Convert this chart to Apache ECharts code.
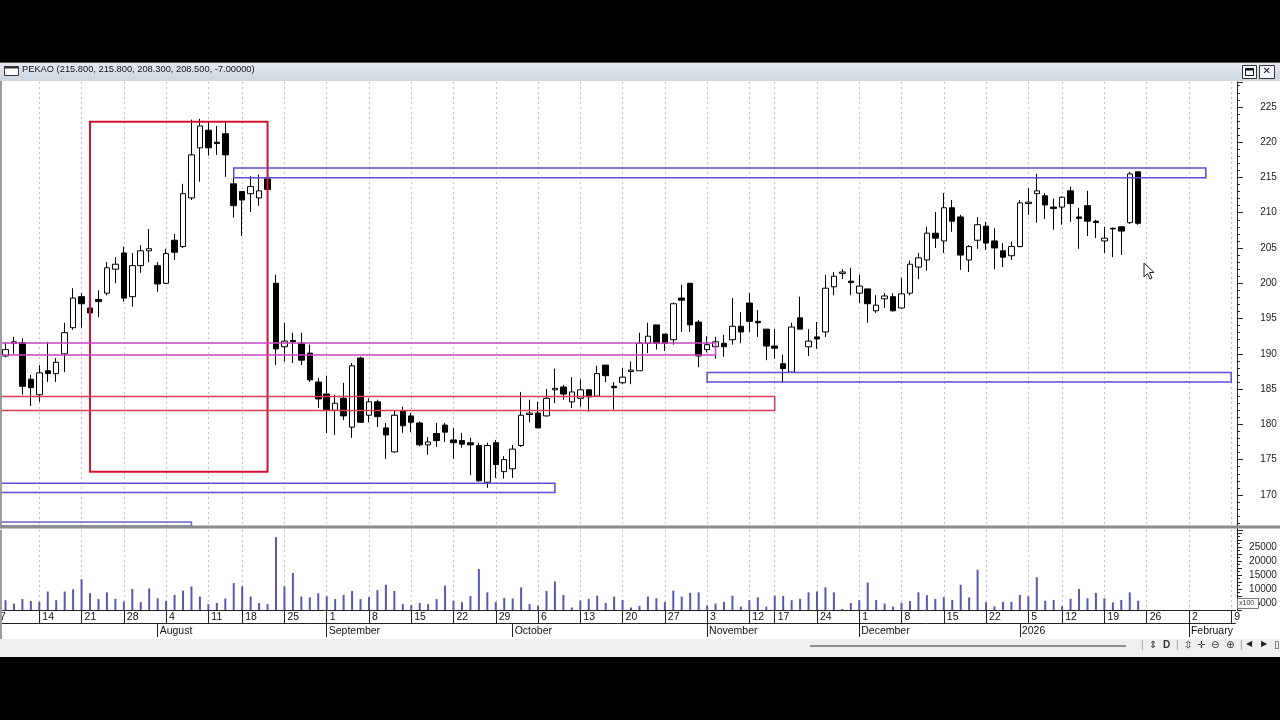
<!DOCTYPE html>
<html>
<head>
<meta charset="UTF-8">
<title>PEKAO</title>
<script src="https://cdn.jsdelivr.net/npm/echarts@6/dist/echarts.min.js"></script>
<style>
  html, body { margin: 0; padding: 0; background: #000; }
  #chart {
    width: 1280px; height: 720px;
    background: linear-gradient(#000 0 62px, #fff 62px 639px, #efefef 639px 657px, #000 657px);
  }
</style>
</head>
<body>
<div id="chart"></div>
<script>
// trading days shown on the axis (holidays skipped)
var dates = [
  '2025-07-07','2025-07-08','2025-07-09','2025-07-10','2025-07-11',
  '2025-07-14','2025-07-15','2025-07-16','2025-07-17','2025-07-18',
  '2025-07-21','2025-07-22','2025-07-23','2025-07-24','2025-07-25',
  '2025-07-28','2025-07-29','2025-07-30','2025-07-31','2025-08-01',
  '2025-08-04','2025-08-05','2025-08-06','2025-08-07','2025-08-08',
  '2025-08-11','2025-08-12','2025-08-13','2025-08-14',
  '2025-08-18','2025-08-19','2025-08-20','2025-08-21','2025-08-22',
  '2025-08-25','2025-08-26','2025-08-27','2025-08-28','2025-08-29',
  '2025-09-01','2025-09-02','2025-09-03','2025-09-04','2025-09-05',
  '2025-09-08','2025-09-09','2025-09-10','2025-09-11','2025-09-12',
  '2025-09-15','2025-09-16','2025-09-17','2025-09-18','2025-09-19',
  '2025-09-22','2025-09-23','2025-09-24','2025-09-25','2025-09-26',
  '2025-09-29','2025-09-30','2025-10-01','2025-10-02','2025-10-03',
  '2025-10-06','2025-10-07','2025-10-08','2025-10-09','2025-10-10',
  '2025-10-13','2025-10-14','2025-10-15','2025-10-16','2025-10-17',
  '2025-10-20','2025-10-21','2025-10-22','2025-10-23','2025-10-24',
  '2025-10-27','2025-10-28','2025-10-29','2025-10-30','2025-10-31',
  '2025-11-03','2025-11-04','2025-11-05','2025-11-06','2025-11-07',
  '2025-11-12','2025-11-13','2025-11-14',
  '2025-11-17','2025-11-18','2025-11-19','2025-11-20','2025-11-21',
  '2025-11-24','2025-11-25','2025-11-26','2025-11-27','2025-11-28',
  '2025-12-01','2025-12-02','2025-12-03','2025-12-04','2025-12-05',
  '2025-12-08','2025-12-09','2025-12-10','2025-12-11','2025-12-12',
  '2025-12-15','2025-12-16','2025-12-17','2025-12-18','2025-12-19',
  '2025-12-22','2025-12-23','2025-12-29','2025-12-30',
  '2026-01-02','2026-01-05','2026-01-07','2026-01-08','2026-01-09',
  '2026-01-12','2026-01-13','2026-01-14','2026-01-15','2026-01-16',
  '2026-01-19','2026-01-20','2026-01-21','2026-01-22','2026-01-23',
  '2026-01-26','2026-01-27','2026-01-28','2026-01-29','2026-01-30',
  '2026-02-02','2026-02-03','2026-02-04','2026-02-05','2026-02-06',
  '2026-02-09'
];

var weekTicks = [
  '2025-07-07','2025-07-14','2025-07-21','2025-07-28','2025-08-04','2025-08-11',
  '2025-08-18','2025-08-25','2025-09-01','2025-09-08','2025-09-15','2025-09-22',
  '2025-09-29','2025-10-06','2025-10-13','2025-10-20','2025-10-27','2025-11-03',
  '2025-11-12','2025-11-17','2025-11-24','2025-12-01','2025-12-08','2025-12-15',
  '2025-12-22','2026-01-05','2026-01-12','2026-01-19','2026-01-26','2026-02-02',
  '2026-02-09'
];
var monthStarts = ['2025-08-01','2025-09-01','2025-10-01','2025-11-03','2025-12-01','2026-01-02','2026-02-02'];
var monthNames = ['August','September','October','November','December','2026','February'];

// [open, close, low, high]
var candles = [
  null,
  [189.7,190.6,189.5,191.6],[191.5,191.7,190.0,192.4],[191.6,185.4,184.2,192.2],[186.4,185.2,182.6,187.0],
  [184.2,187.3,183.2,188.4],[187.6,187.2,186.0,191.7],[187.2,188.8,186.0,189.4],[190.0,193.0,187.4,194.4],
  [193.7,197.9,193.4,199.3],[198.1,197.1,193.7,198.6],[196.5,195.8,194.8,197.2],[197.7,197.4,195.2,199.0],
  [198.6,202.2,198.3,203.0],[202.0,202.7,200.0,203.7],[204.3,197.9,197.4,205.2],[198.1,202.5,196.7,204.3],
  [202.5,204.6,201.5,205.4],[204.6,204.9,203.0,207.7],[202.5,199.9,198.8,203.0],[200.0,204.2,199.9,204.9],
  [206.1,204.4,203.3,207.0],[205.2,212.7,205.0,214.1],[212.1,218.2,211.8,223.2],[219.2,222.3,214.4,223.3],
  [221.7,219.2,218.1,222.9],[220.0,219.8,218.2,222.3],[221.2,218.2,215.1,222.9],[214.1,211.0,209.3,215.1],
  [213.0,211.8,206.7,213.0],[212.7,213.7,210.1,215.2],[212.1,213.1,211.0,215.4],[214.8,213.3,212.5,215.8],
  [200.0,190.7,188.4,201.2],[191.0,191.8,188.9,194.4],[191.9,191.7,188.7,193.0],[191.5,189.1,188.4,193.0],
  [190.1,186.3,186.0,191.3],[186.0,183.6,182.3,186.6],[184.3,182.0,178.8,186.9],[182.0,183.0,178.5,184.2],
  [183.7,181.2,180.6,185.9],[179.6,188.3,178.1,188.7],[189.4,180.3,180.2,189.6],[181.3,183.2,180.3,183.7],
  [183.2,181.1,179.6,183.5],[179.5,178.5,175.1,180.2],[176.1,181.3,176.0,182.0],[181.9,179.8,178.8,182.5],
  [181.2,180.3,178.9,181.6],[180.2,177.1,176.9,180.4],[177.1,177.5,175.7,178.2],[178.7,177.7,176.8,180.2],
  [179.9,178.9,177.5,180.2],[177.8,177.4,175.1,179.5],[177.7,177.2,176.7,178.8],[177.4,177.1,172.8,178.1],
  [177.0,172.0,171.9,177.4],[171.8,177.0,171.0,177.4],[177.4,174.3,172.4,177.8],[173.3,175.0,172.3,175.5],
  [173.7,176.5,172.4,177.1],[177.0,181.3,176.8,184.6],[181.4,181.6,180.3,183.5],[181.6,179.5,179.5,183.2],
  [181.2,183.7,181.1,185.0],[184.9,185.1,183.0,187.9],[185.3,184.3,183.5,185.6],[183.2,184.6,182.3,186.7],
  [183.7,184.9,182.5,186.4],[184.9,183.9,181.8,184.9],[184.0,187.2,184.0,188.3],[188.4,186.9,186.0,188.4],
  [185.4,185.2,182.1,186.0],[185.9,186.7,185.7,188.0],[187.5,187.7,185.7,188.9],[187.6,191.5,187.6,193.0],
  [191.5,192.5,190.1,194.4],[194.1,191.5,190.6,194.1],[192.8,191.5,190.4,192.8],[192.0,197.1,191.3,197.3],
  [197.9,197.6,193.1,199.8],[200.0,194.1,193.1,200.0],[194.5,189.7,188.1,194.8],[190.6,191.3,190.2,192.5],
  [191.0,191.7,189.3,192.4],[191.5,191.0,189.6,192.7],[192.0,193.9,191.3,197.9],[193.9,193.1,191.5,195.9],
  [197.2,194.6,193.1,198.6],[194.6,194.4,192.4,196.2],[193.5,191.1,189.1,193.5],[191.1,190.8,189.3,193.5],
  [188.6,187.9,185.9,189.9],[187.4,193.8,187.3,194.4],[195.1,193.5,193.5,198.1],[191.0,191.8,189.7,193.5],
  [192.4,192.1,190.7,194.5],[193.1,199.3,192.4,201.2],[199.5,201.0,198.3,201.6],[201.4,201.6,200.6,202.0],
  [200.3,200.1,198.3,202.2],[198.6,199.6,197.2,201.2],[199.2,197.1,194.4,199.2],[196.1,196.9,195.8,198.3],
  [197.8,198.2,196.5,198.6],[198.1,196.1,196.0,198.6],[196.5,198.5,196.4,200.8],[198.6,202.7,198.3,203.2],
  [202.3,203.6,200.6,204.3],[203.3,207.1,201.8,208.0],[207.1,206.4,205.0,210.1],[206.0,210.7,204.3,212.8],
  [210.7,208.8,207.3,211.8],[209.4,204.0,201.9,209.7],[203.3,205.2,201.6,205.4],[206.1,208.3,204.9,209.4],
  [208.1,205.7,204.7,208.7],[206.0,205.0,202.0,207.8],[204.6,203.7,202.3,205.7],[203.9,205.2,203.3,205.9],
  [205.2,211.4,205.1,211.8],[211.3,211.5,209.7,213.5],[212.7,213.1,208.6,215.5],[212.4,211.1,209.1,212.8],
  [210.8,210.6,207.6,212.0],[210.8,212.2,208.3,212.3],[213.1,211.3,208.7,213.7],[209.4,209.2,204.9,210.7],
  [211.0,208.8,206.7,213.1],[208.8,208.6,206.4,209.0],[206.0,206.4,204.3,208.0],[207.8,207.7,203.7,207.9],
  [208.0,207.4,204.0,208.1],[208.6,215.5,208.4,215.8],[215.8,208.5,208.3,215.8]
];

// volume in hundreds of shares
var volume = [
  null,
  6000,4800,6400,5700,5400,9100,6000,9100,9900,13500,8500,6400,8800,6500,5500,10000,5300,10200,6700,5700,
  7900,9400,10900,7300,4600,5000,6600,12100,10900,7300,5000,4600,28500,10900,15700,7300,7000,8500,7400,6400,
  7900,9300,6400,7100,9600,11500,9300,4600,4300,5000,4600,6400,11200,5800,5300,7500,17100,8800,5300,6800,
  6600,10600,4600,4100,9300,12700,7900,3400,5900,6500,7600,5000,7300,6100,3400,4000,7300,6700,5400,9400,
  7300,8600,8800,4100,4800,5400,7600,3700,6000,7000,3700,7600,7500,6000,6500,8800,9100,10600,8800,2900,
  5000,6000,12300,6100,4800,3700,5100,5700,8800,7800,6500,7100,6100,11500,7000,16900,5300,3800,5400,5400,
  7900,7400,14200,5800,6100,3900,6500,10000,6700,8600,6700,5200,6100,8800,5800
];

// drawn rectangles: [from, to, top price, bottom price, colour, line width]
var zones = [
  ['2025-07-22', '2025-08-21', 222.9, 173.3, '#d2122e', 2],
  ['2025-08-14', '2026-02-04', 216.35, 214.95, '#5a4ed2', 1.5],
  ['2025-07-07', '2025-11-04', 191.55, 189.85, '#cc3fcc', 1.5],
  ['2025-07-07', '2025-11-17', 183.95, 181.95, '#d8404f', 1.5],
  ['2025-07-07', '2025-10-08', 171.65, 170.35, '#5a4ed2', 1.5],
  ['2025-11-03', '2026-02-09', 187.35, 186.0, '#5a4ed2', 1.5],
  ['2025-07-07', '2025-08-07', 166.15, 165.6, '#6a66c4', 1.5]
];

var weekSet = {};
weekTicks.forEach(function (d) { weekSet[d] = true; });
var monthSet = {};
monthStarts.forEach(function (d, i) { monthSet[d] = monthNames[i]; });
function isWeek(i, v) { return weekSet[v] === true; }
function isMonth(i, v) { return monthSet[v] !== undefined; }

var FONT = 'Liberation Sans, Arial, sans-serif';
var GRID_LEFT = -7.18, GRID_WIDTH = 1242.6;

var gridDash = {
  show: true, alignWithLabel: true, interval: isWeek,
  lineStyle: { color: '#c2c2c2', type: [2, 3], width: 1 }
};

var zoneAreas = zones.map(function (z) {
  return [
    { xAxis: z[0], yAxis: z[2], itemStyle: { color: 'rgba(0,0,0,0)', borderColor: z[4], borderWidth: z[5] } },
    { xAxis: z[1], yAxis: z[3] }
  ];
});

var chart = echarts.init(document.getElementById('chart'), null, { renderer: 'canvas' });

var option = {
  animation: false,
  backgroundColor: 'transparent',
  grid: [
    { left: GRID_LEFT, width: GRID_WIDTH, top: 82, height: 448.2, outerBoundsMode: 'none', containLabel: false },
    { left: GRID_LEFT, width: GRID_WIDTH, top: 530, height: 80, outerBoundsMode: 'none', containLabel: false }
  ],
  xAxis: [
    {
      type: 'category', gridIndex: 0, data: dates, boundaryGap: true,
      axisLine: { show: false }, axisTick: { show: false }, axisLabel: { show: false },
      splitLine: gridDash
    },
    {
      type: 'category', gridIndex: 1, data: dates, boundaryGap: true, position: 'bottom',
      axisLine: { show: true, lineStyle: { color: '#222', width: 1 } },
      axisTick: { show: true, alignWithLabel: true, interval: isWeek, length: 13, lineStyle: { color: '#222' } },
      axisLabel: {
        show: true, interval: isWeek, align: 'left', margin: 2, padding: [0, 0, 0, 3],
        fontFamily: FONT, fontSize: 10.5, color: '#111',
        formatter: function (v) { return String(parseInt(v.slice(8), 10)); }
      },
      splitLine: gridDash
    },
    {
      type: 'category', gridIndex: 1, data: dates, boundaryGap: true, position: 'bottom', offset: 13,
      axisLine: { show: true, lineStyle: { color: '#222', width: 1 } },
      axisTick: { show: true, alignWithLabel: true, interval: isMonth, length: 14, lineStyle: { color: '#222' } },
      axisLabel: {
        show: true, interval: isMonth, align: 'left', margin: 3, padding: [0, 0, 0, 2],
        fontFamily: FONT, fontSize: 10.5, color: '#111',
        formatter: function (v) { return monthSet[v] || ''; }
      },
      splitLine: { show: false }
    }
  ],
  yAxis: [
    {
      type: 'value', gridIndex: 0, position: 'right', offset: 1.5,
      min: 165, max: 228.53, interval: 5,
      axisLine: { show: true, lineStyle: { color: '#222', width: 1 } },
      axisTick: { show: true, length: 6, lineStyle: { color: '#222' } },
      minorTick: { show: true, splitNumber: 5, length: 3, lineStyle: { color: '#222' } },
      splitLine: { show: false },
      axisLabel: {
        showMinLabel: false, align: 'right', margin: 40,
        fontFamily: FONT, fontSize: 10, color: '#222',
        formatter: function (v) { return (v % 5 === 0 && v > 165) ? String(v) : ''; }
      }
    },
    {
      type: 'value', gridIndex: 1, position: 'right', offset: 1.5,
      min: 2500, max: 31070, interval: 2500,
      axisLine: { show: true, lineStyle: { color: '#222', width: 1 } },
      axisTick: { show: true, length: 5, lineStyle: { color: '#222' } },
      minorTick: { show: true, splitNumber: 2, length: 3, lineStyle: { color: '#222' } },
      splitLine: { show: false },
      axisLabel: {
        align: 'right', margin: 40,
        fontFamily: FONT, fontSize: 10, color: '#222',
        formatter: function (v) { return (v % 5000 === 0 && v >= 5000 && v <= 25000) ? String(v) : ''; }
      }
    }
  ],
  series: [
    {
      type: 'candlestick', xAxisIndex: 0, yAxisIndex: 0, barWidth: 6,
      data: candles.map(function (c) { return c ? c : '-'; }),
      itemStyle: { color: '#fff', color0: '#000', borderColor: '#000', borderColor0: '#000', borderWidth: 1 },
      markArea: { silent: true, z: 10, label: { show: false }, data: zoneAreas }
    },
    {
      type: 'bar', xAxisIndex: 1, yAxisIndex: 1, barWidth: 2,
      data: volume.map(function (v) { return v === null ? '-' : v; }),
      itemStyle: { color: '#5858b2' }
    }
  ],
  graphic: [
    // title bar
    { type: 'rect', z: 50, shape: { x: 0, y: 62, width: 1280, height: 19 },
      style: { fill: new echarts.graphic.LinearGradient(0, 0, 0, 1, [{ offset: 0, color: '#e6ebf2' }, { offset: 1, color: '#cdd5e0' }]) } },
    { type: 'rect', z: 50, shape: { x: 0, y: 62, width: 1280, height: 1 }, style: { fill: '#555' } },
    { type: 'rect', z: 51, shape: { x: 4.5, y: 66.5, width: 14, height: 9 }, style: { fill: '#fff', stroke: '#333', lineWidth: 1 } },
    { type: 'rect', z: 52, shape: { x: 4.5, y: 66.5, width: 14, height: 2 }, style: { fill: '#333' } },
    { type: 'text', z: 52, left: 22, top: 65,
      style: { text: 'PEKAO (215.800, 215.800, 208.300, 208.500, -7.00000)', font: '9.3px ' + FONT, fill: '#111' } },
    { type: 'rect', z: 51, shape: { x: 1242.5, y: 65.5, width: 14, height: 13 }, style: { fill: '#f4f6f9', stroke: '#333', lineWidth: 1 } },
    { type: 'rect', z: 52, shape: { x: 1245.5, y: 68.5, width: 8, height: 7 }, style: { fill: 'none', stroke: '#111', lineWidth: 1 } },
    { type: 'rect', z: 52, shape: { x: 1245.5, y: 68.5, width: 8, height: 2 }, style: { fill: '#111' } },
    { type: 'rect', z: 51, shape: { x: 1259.5, y: 65.5, width: 15, height: 13 }, style: { fill: '#f4f6f9', stroke: '#333', lineWidth: 1 } },
    { type: 'text', z: 52, left: 1262.5, top: 66, style: { text: '✕', font: 'bold 10px DejaVu Sans', fill: '#111' } },
    // window frame and panel separator
    { type: 'rect', z: 50, shape: { x: 0, y: 81, width: 2, height: 558 }, style: { fill: '#9c9c9c' } },
    { type: 'rect', z: 50, shape: { x: 0, y: 528.5, width: 1236, height: 1.5 }, style: { fill: '#fff' } },
    { type: 'rect', z: 51, shape: { x: 0, y: 525.5, width: 1280, height: 3 }, style: { fill: '#8c8c8c' } },
    // volume multiplier box
    { type: 'rect', z: 51, shape: { x: 1237.5, y: 598.5, width: 21, height: 10 }, style: { fill: '#fff', stroke: '#777', lineWidth: 1 } },
    { type: 'text', z: 52, left: 1239, top: 600, style: { text: 'x100', font: '7px ' + FONT, fill: '#333' } },
    // bottom toolbar
    { type: 'rect', z: 50, shape: { x: 810, y: 645, width: 316, height: 2 }, style: { fill: '#8e8e8e' } },
    { type: 'text', z: 50, left: 1141, top: 640, style: { text: '|', font: '10px ' + FONT, fill: '#999' } },
    { type: 'text', z: 50, left: 1149, top: 640, style: { text: '⇕', font: '10px DejaVu Sans', fill: '#333' } },
    { type: 'text', z: 50, left: 1163, top: 640, style: { text: 'D', font: 'bold 10px ' + FONT, fill: '#333' } },
    { type: 'text', z: 50, left: 1176, top: 640, style: { text: '|', font: '10px ' + FONT, fill: '#999' } },
    { type: 'text', z: 50, left: 1184, top: 640, style: { text: '⇳', font: '10px DejaVu Sans', fill: '#333' } },
    { type: 'text', z: 50, left: 1197, top: 640, style: { text: '✛', font: '10px DejaVu Sans', fill: '#333' } },
    { type: 'text', z: 50, left: 1211, top: 640, style: { text: '⊖', font: '10px DejaVu Sans', fill: '#333' } },
    { type: 'text', z: 50, left: 1226, top: 640, style: { text: '⊕', font: '10px DejaVu Sans', fill: '#333' } },
    { type: 'text', z: 50, left: 1240, top: 640, style: { text: '|', font: '10px ' + FONT, fill: '#999' } },
    { type: 'text', z: 50, left: 1246, top: 640, style: { text: '◀', font: '8px DejaVu Sans', fill: '#222' } },
    { type: 'text', z: 50, left: 1261, top: 640, style: { text: '▶', font: '8px DejaVu Sans', fill: '#222' } },
    { type: 'text', z: 50, left: 1274, top: 640, style: { text: '▯', font: '10px DejaVu Sans', fill: '#333' } },
    // mouse pointer
    { type: 'polygon', z: 60, shape: { points: [[1144, 263], [1144, 277], [1147.5, 273.5], [1150, 279], [1152, 278], [1149.5, 272.5], [1154, 272.5]] },
      style: { fill: '#fff', stroke: '#222', lineWidth: 1 } }
  ]
};

chart.setOption(option);
</script>
</body>
</html>
